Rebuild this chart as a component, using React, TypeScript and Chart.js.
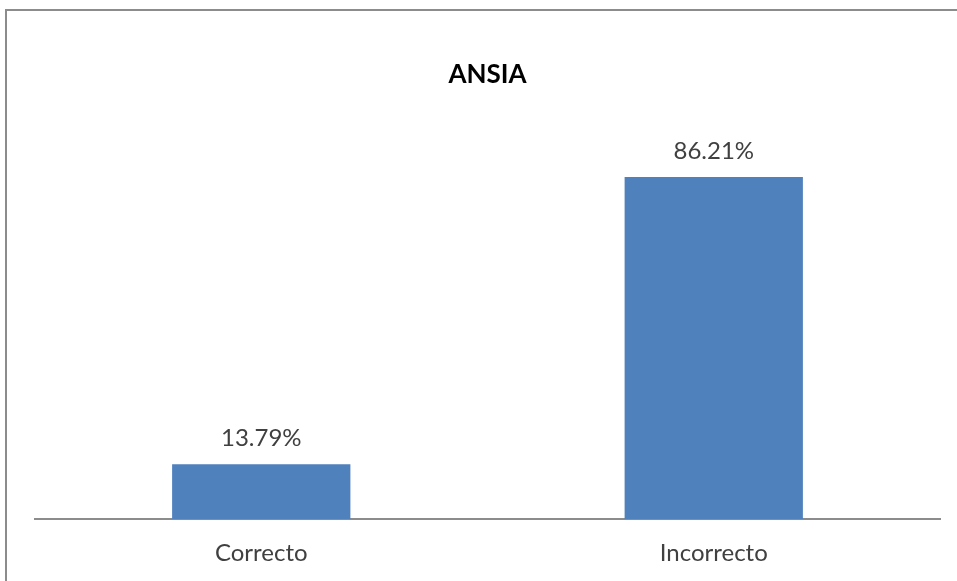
import React, { useEffect, useRef } from "react";
import { Chart, registerables } from "chart.js";

Chart.register(...registerables);

const categories = ["Correcto", "Incorrecto"];
const values = [13.79, 86.21];
const valueLabels = ["13.79%", "86.21%"];
const chartTitle = "ANSIA";

const FONT = "Lato, 'Open Sans', 'Liberation Sans', sans-serif";

const valueLabelPlugin = {
  id: "valueLabels",
  afterDatasetsDraw(chart: any) {
    const ctx = chart.ctx;
    const meta = chart.getDatasetMeta(0);
    ctx.save();
    ctx.font = `24px ${FONT}`;
    ctx.fillStyle = "#404040";
    ctx.textAlign = "center";
    ctx.textBaseline = "middle";
    meta.data.forEach((bar: any, i: number) => {
      ctx.fillText(valueLabels[i], bar.x, bar.y - 26);
    });
    ctx.restore();
  },
};

export default function App() {
  const ref = useRef<HTMLCanvasElement>(null);
  useEffect(() => {
    if (!ref.current) return;
    const chart = new Chart(ref.current, {
      type: "bar",
      data: {
        labels: categories,
        datasets: [
          {
            data: values,
            backgroundColor: "#4F81BD",
            borderWidth: 0,
            categoryPercentage: 1,
            barPercentage: 0.394,
          },
        ],
      },
      options: {
        animation: false,
        responsive: false,
        maintainAspectRatio: false,
        layout: { padding: { left: 35, right: 17, top: 0, bottom: 2 } },
        plugins: {
          legend: { display: false },
          tooltip: { enabled: false },
          title: {
            display: true,
            text: chartTitle,
            color: "#000000",
            font: { family: FONT, size: 26, weight: "bold" },
            padding: { top: 59, bottom: 32 },
          },
        },
        scales: {
          x: {
            grid: { display: false },
            border: { display: true, color: "#8c8c8c", width: 2 },
            ticks: {
              color: "#404040",
              font: { family: FONT, size: 24 },
              padding: 11.6,
            },
          },
          y: {
            display: false,
            min: 0,
            max: 100,
          },
        },
      },
      plugins: [valueLabelPlugin],
    });
    return () => chart.destroy();
  }, []);
  return (
    <div
      style={{
        position: "fixed",
        left: 0,
        top: 0,
        width: 957,
        height: 581,
        background: "#ffffff",
        overflow: "hidden",
      }}
    >
      <div
        style={{
          position: "absolute",
          left: 5,
          top: 9,
          width: 1000,
          height: 600,
          borderLeft: "2px solid #8c8c8c",
          borderTop: "2px solid #8c8c8c",
        }}
      />
      <canvas ref={ref} width={957} height={581} style={{ position: "absolute", left: 0, top: 0 }} />
    </div>
  );
}
